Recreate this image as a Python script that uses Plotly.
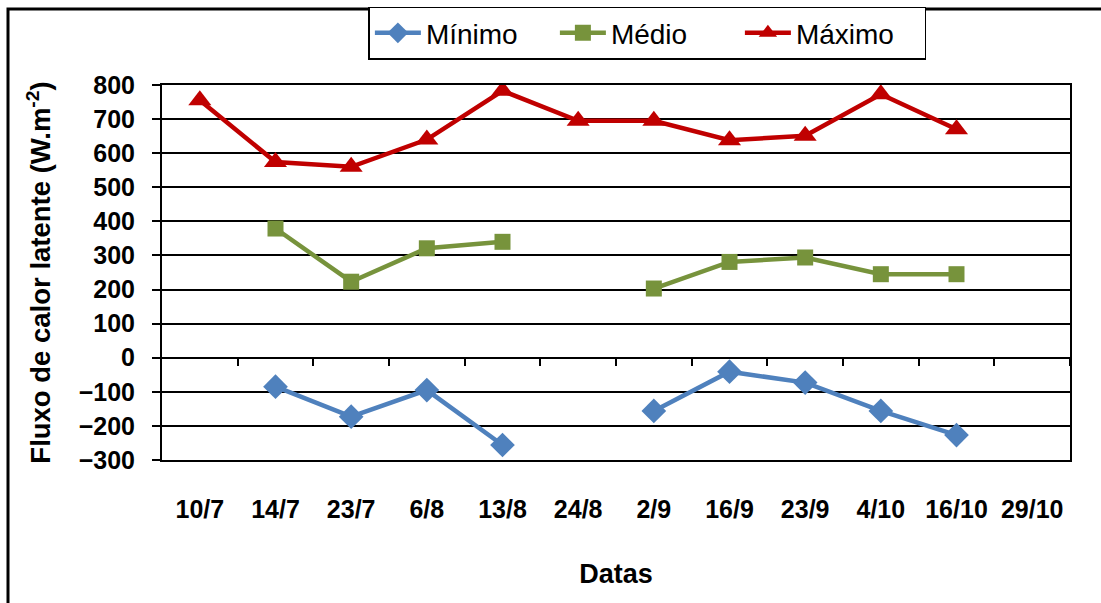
import plotly.graph_objects as go

# Sampling dates (category axis)
datas = ["10/7", "14/7", "23/7", "6/8", "13/8", "24/8", "2/9", "16/9",
         "23/9", "4/10", "16/10", "29/10"]

# Latent heat flux (W.m-2); None marks days without data
minimo = [None, -85, -173, -95, -256, None, -156, -41, -73, -156, -227, None]
medio = [None, 379, 223, 321, 340, None, 203, 281, 294, 245, 245, None]
maximo = [755, 574, 560, 640, 783, 695, 695, 638, 651, 773, 670, None]

y_ticks = list(range(-300, 801, 100))

x = list(range(len(datas)))
FONT = "Liberation Sans, Arial, sans-serif"

fig = go.Figure()
series = [
    ("Mínimo", minimo, "#4F81BD", "diamond", 19),
    ("Médio", medio, "#77933C", "square", 16),
    ("Máximo", maximo, "#C00000", "triangle-up", 20),
]
for name, vals, color, symbol, size in series:
    fig.add_trace(go.Scatter(
        x=x, y=vals, name=name, mode="lines+markers",
        line=dict(color=color, width=4.5),
        marker=dict(symbol=symbol, size=size, color=color),
        connectgaps=False,
    ))

# Horizontal category axis crossing at zero, ticks between categories
fig.add_trace(go.Scatter(x=[None], y=[None], xaxis="x2", showlegend=False,
                         hoverinfo="skip"))

y_lo, y_hi = y_ticks[0], y_ticks[-1]
zero_pos = (0 - y_lo) / (y_hi - y_lo)

fig.update_layout(
    width=1101, height=603,
    margin=dict(l=162, r=31, t=85, b=143, autoexpand=False),
    paper_bgcolor="white", plot_bgcolor="white",
    font=dict(family=FONT, color="black"),
    showlegend=True,
    legend=dict(
        orientation="h", xref="container", yref="container",
        x=0.588, xanchor="center", y=0.945, yanchor="middle",
        bordercolor="black", borderwidth=1.5,
        font=dict(size=28, family=FONT),
        itemwidth=46, entrywidth=124,
    ),
    xaxis=dict(
        range=[-0.5, len(datas) - 0.5],
        tickvals=x, ticktext=datas,
        tickfont=dict(size=25, family=FONT, weight="bold"),
        ticks="", showgrid=False, zeroline=False,
        showline=True, linecolor="black", linewidth=2, mirror=True,
        ticklabelstandoff=26,
        title=dict(text="Datas", font=dict(size=27, family=FONT, weight="bold"),
                   standoff=42),
    ),
    xaxis2=dict(
        overlaying="x", anchor="free", position=zero_pos,
        range=[-0.5, len(datas) - 0.5],
        tickvals=[i + 0.5 for i in x],
        showticklabels=False, ticks="outside", ticklen=7, tickwidth=1.5,
        tickcolor="black", showgrid=False, zeroline=False,
        showline=True, linecolor="black", linewidth=2,
    ),
    yaxis=dict(
        range=[y_lo, y_hi], tickvals=y_ticks,
        tickfont=dict(size=25, family=FONT, weight="bold"),
        ticks="outside", ticklen=8, tickwidth=1.5, tickcolor="black",
        ticklabelstandoff=12,
        showgrid=True, gridcolor="black", gridwidth=2,
        zeroline=False,
        showline=True, linecolor="black", linewidth=2, mirror=True,
        title=dict(text="Fluxo de calor latente (W.m<sup>-2</sup>)",
                   font=dict(size=27.5, family=FONT, weight="bold"),
                   standoff=20),
    ),
    shapes=[
        # chart frame
        dict(type="rect", xref="paper", yref="paper",
             x0=(8 - 162) / 908, x1=1.2, y0=-0.5, y1=1 + (85 - 9) / 375,
             line=dict(color="black", width=3), fillcolor="rgba(0,0,0,0)",
             layer="below"),
    ],
)

fig.write_html("out.html")
